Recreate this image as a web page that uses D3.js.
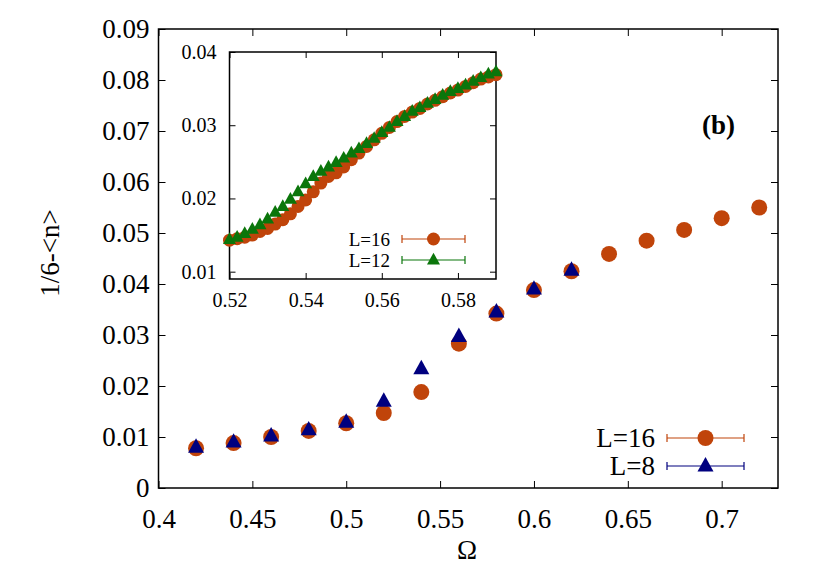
<!DOCTYPE html>
<html>
<head>
<meta charset="utf-8">
<script src="https://cdn.jsdelivr.net/npm/d3@7"></script>
<style>
  body { margin: 0; background: #fff; }
  svg, svg text, svg g { font-family: 'Liberation Serif', 'DejaVu Serif', serif !important; }
</style>
</head>
<body>
<div id="chart"></div>
<script>
// main panel: L=16 and L=8
const omegaL16 = [0.42, 0.44, 0.46, 0.48, 0.50, 0.52, 0.54, 0.56, 0.58, 0.60, 0.62, 0.64, 0.66, 0.68, 0.70, 0.72];
const valL16 = [0.0078, 0.0088, 0.0100, 0.0112, 0.0127, 0.0147, 0.0188, 0.0283, 0.0342, 0.0388, 0.0425, 0.0459, 0.0485, 0.0506, 0.0529, 0.0550];
const omegaL8 = [0.42, 0.44, 0.46, 0.48, 0.50, 0.52, 0.54, 0.56, 0.58, 0.60, 0.62];
const valL8 = [0.0080, 0.0090, 0.0102, 0.0114, 0.0129, 0.0170, 0.0234, 0.0297, 0.0345, 0.0390, 0.0427];

// inset: L=16 and L=12
const omegaInset = [0.520, 0.522, 0.524, 0.526, 0.528, 0.530, 0.532, 0.534, 0.536, 0.538,
                    0.540, 0.542, 0.544, 0.546, 0.548, 0.550, 0.552, 0.554, 0.556, 0.558,
                    0.560, 0.562, 0.564, 0.566, 0.568, 0.570, 0.572, 0.574, 0.576, 0.578,
                    0.580, 0.582, 0.584, 0.586, 0.588, 0.590];
const insetL16 = [0.0143, 0.0145, 0.0147, 0.0150, 0.0155, 0.0159, 0.0165, 0.0171, 0.0179, 0.0189,
                  0.0198, 0.0209, 0.0221, 0.0230, 0.0235, 0.0243, 0.0253, 0.0262, 0.0271, 0.0280,
                  0.0289, 0.0297, 0.0305, 0.0312, 0.0318, 0.0323, 0.0329, 0.0334, 0.0339, 0.0344,
                  0.0348, 0.0353, 0.0358, 0.0363, 0.0366, 0.0369];
const insetL12 = [0.0144, 0.0147, 0.0152, 0.0158, 0.0164, 0.0172, 0.0181, 0.0189, 0.0199, 0.0209,
                  0.0220, 0.0230, 0.0237, 0.0243, 0.0249, 0.0255, 0.0262, 0.0268, 0.0275, 0.0282,
                  0.0290, 0.0297, 0.0305, 0.0312, 0.0319, 0.0324, 0.0330, 0.0335, 0.0341, 0.0346,
                  0.0350, 0.0355, 0.0360, 0.0365, 0.0370, 0.0373];

const xTicks = [0.4, 0.45, 0.5, 0.55, 0.6, 0.65, 0.7];
const yTicks = [0, 0.01, 0.02, 0.03, 0.04, 0.05, 0.06, 0.07, 0.08, 0.09];
const xTicksInset = [0.52, 0.54, 0.56, 0.58];
const yTicksInset = [0.01, 0.02, 0.03, 0.04];

const orange = "#c0440a", navy = "#00007f", green = "#0b760b";

const width = 830, height = 581;
const svg = d3.select("#chart").append("svg")
  .attr("width", width).attr("height", height);

// framed panel, inward ticks on all four sides
function panel(x, y, xt, yt, fs, fmt, tickLen, padX, padY) {
  const [x0, x1] = x.range(), [y0, y1] = y.range();
  const g = svg.append("g");
  g.append("g").attr("transform", `translate(0,${y0})`)
    .call(d3.axisBottom(x).tickValues(xt).tickSize(-tickLen).tickPadding(padX).tickFormat(fmt));
  g.append("g").attr("transform", `translate(0,${y1})`)
    .call(d3.axisTop(x).tickValues(xt).tickSize(-tickLen).tickFormat(""));
  g.append("g").attr("transform", `translate(${x0},0)`)
    .call(d3.axisLeft(y).tickValues(yt).tickSize(-tickLen).tickPadding(padY).tickFormat(fmt));
  g.append("g").attr("transform", `translate(${x1},0)`)
    .call(d3.axisRight(y).tickValues(yt).tickSize(-tickLen).tickFormat(""));
  g.selectAll(".domain").remove();
  g.selectAll(".tick line").attr("stroke", "#000").attr("stroke-width", 1);
  g.selectAll(".tick text").attr("font-size", fs).attr("fill", "#000");
  g.append("rect").attr("x", x0).attr("y", y1).attr("width", x1 - x0).attr("height", y0 - y1)
    .attr("fill", "none").attr("stroke", "#000").attr("stroke-width", 1.5);
  return g;
}

function triPath(s) {
  const h = s * 0.9;
  return `M0,${-h * 0.62}L${s / 2},${h * 0.38}L${-s / 2},${h * 0.38}Z`;
}

// ---- main panel
const x = d3.scaleLinear().domain([0.4, 0.73]).range([158.5, 778]);
const y = d3.scaleLinear().domain([0, 0.09]).range([488, 29]);
const fmtMain = d => d === 0 ? "0" : String(+d.toFixed(2));
panel(x, y, xTicks, yTicks, "27px", fmtMain, 7, 21, 9);

svg.append("g").selectAll("circle")
  .data(omegaL16.map((o, i) => [o, valL16[i]]))
  .join("circle")
  .attr("cx", d => x(d[0])).attr("cy", d => y(d[1])).attr("r", 8)
  .attr("fill", orange);

svg.append("g").selectAll("path")
  .data(omegaL8.map((o, i) => [o, valL8[i]]))
  .join("path")
  .attr("transform", d => `translate(${x(d[0])},${y(d[1])})`)
  .attr("d", triPath(16))
  .attr("fill", navy);

// axis titles
svg.append("text").attr("x", 467).attr("y", 559).attr("text-anchor", "middle")
  .attr("font-size", "27px").text("Ω");
svg.append("text").attr("transform", "translate(59,253) rotate(-90)")
  .attr("text-anchor", "middle").attr("font-size", "27px").text("1/6-<n>");
svg.append("text").attr("x", 735).attr("y", 134).attr("text-anchor", "end")
  .attr("font-size", "27px").attr("font-weight", "bold").text("(b)");

// legend rows: label, error bar with caps, marker
function legendRow(g, xText, yRow, x0, x1, label, color, shape, size, fs) {
  g.append("text").attr("x", xText).attr("y", yRow).attr("dy", "0.35em")
    .attr("text-anchor", "end").attr("font-size", fs).text(label);
  g.append("line").attr("x1", x0).attr("x2", x1).attr("y1", yRow).attr("y2", yRow)
    .attr("stroke", color).attr("stroke-width", 1.2);
  [x0, x1].forEach(xc => g.append("line").attr("x1", xc).attr("x2", xc)
    .attr("y1", yRow - 4).attr("y2", yRow + 4).attr("stroke", color).attr("stroke-width", 1.2));
  const xm = (x0 + x1) / 2;
  if (shape === "circle") {
    g.append("circle").attr("cx", xm).attr("cy", yRow).attr("r", size / 2).attr("fill", color);
  } else {
    g.append("path").attr("transform", `translate(${xm},${yRow})`).attr("d", triPath(size)).attr("fill", color);
  }
}
const legMain = svg.append("g");
legendRow(legMain, 655, 438, 667, 744, "L=16", orange, "circle", 16, "27px");
legendRow(legMain, 655, 466, 667, 744, "L=8", navy, "tri", 16, "27px");

// ---- inset
const xi = d3.scaleLinear().domain([0.52, 0.59]).range([229.5, 496]);
const yi = d3.scaleLinear().domain([0.009, 0.04]).range([279, 52]);
svg.append("rect").attr("x", 229.5).attr("y", 52).attr("width", 266.5).attr("height", 227).attr("fill", "#fff");
panel(xi, yi, xTicksInset, yTicksInset, "20px", d => d.toFixed(2), 6, 14, 13);

svg.append("g").selectAll("circle")
  .data(omegaInset.map((o, i) => [o, insetL16[i]]))
  .join("circle")
  .attr("cx", d => xi(d[0])).attr("cy", d => yi(d[1])).attr("r", 6.5)
  .attr("fill", orange);

svg.append("g").selectAll("path")
  .data(omegaInset.map((o, i) => [o, insetL12[i]]))
  .join("path")
  .attr("transform", d => `translate(${xi(d[0])},${yi(d[1])})`)
  .attr("d", triPath(13))
  .attr("fill", green);

const legInset = svg.append("g");
legendRow(legInset, 390, 239, 402, 465, "L=16", orange, "circle", 13, "19px");
legendRow(legInset, 390, 260, 402, 465, "L=12", green, "tri", 13, "19px");
</script>
</body>
</html>
